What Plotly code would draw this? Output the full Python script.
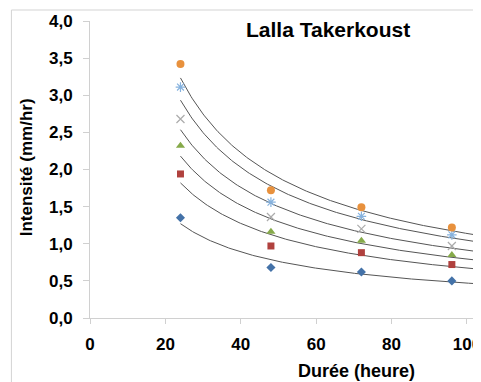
import numpy as np
import plotly.graph_objects as go

# Data
durations = [24, 48, 72, 96]
series_names = ["T1", "T2", "T3", "T4", "T5", "T6"]
s_blue = [1.35, 0.68, 0.62, 0.50]
s_red = [1.94, 0.97, 0.88, 0.72]
s_green = [2.32, 1.16, 1.04, 0.85]
s_gray = [2.68, 1.36, 1.20, 0.97]
s_lblue = [3.11, 1.56, 1.37, 1.12]
s_orange = [3.42, 1.72, 1.49, 1.22]
y_ticks = [0.0, 0.5, 1.0, 1.5, 2.0, 2.5, 3.0, 3.5, 4.0]
x_ticks = [0, 20, 40, 60, 80, 100]

all_series = [s_blue, s_red, s_green, s_gray, s_lblue, s_orange]
colors = ["#4472A8", "#B0413E", "#86AA4A", "#ABABAB", "#86B2DE", "#E8913D"]
symbols = ["diamond", "square", "triangle-up", "x-thin-open", "asterisk-open", "circle"]
sizes = [7, 7, 8, 8, 8, 8]

FONT = "Liberation Sans, Arial, sans-serif"
X_MAX = 103.2

# figure is offset by the page's 8px body margin; work in figure coords
W, H = 473, 374
L, T, B = 82, 13, 64
PW, PH = W - L, H - T - B


def px(fx):
    return (fx - L) / PW


def py(fy):
    return (H - B - fy) / PH


fig = go.Figure()

# Power-law trendlines fitted to each series
xs = np.array(durations, dtype=float)
xfit = np.linspace(24, X_MAX, 200)
for ys in all_series:
    b, ln_a = np.polyfit(np.log(xs), np.log(np.array(ys)), 1)
    yfit = np.exp(ln_a) * xfit ** b
    fig.add_trace(go.Scatter(x=xfit, y=yfit, mode="lines",
                             line=dict(color="#555555", width=1),
                             showlegend=False, hoverinfo="skip"))

for name, ys, c, sym, sz in zip(series_names, all_series, colors, symbols, sizes):
    marker = dict(color=c, symbol=sym, size=sz)
    if sym.endswith("-open"):
        marker["line"] = dict(color=c, width=1.2)
    fig.add_trace(go.Scatter(x=durations, y=ys, mode="markers", name=name,
                             marker=marker, showlegend=False))

tickfont = dict(family=FONT, size=17, color="#000000", weight="bold")

fig.update_layout(
    width=W, height=H,
    margin=dict(l=L, r=0, t=T, b=B),
    paper_bgcolor="white", plot_bgcolor="white",
    separators=",.",
    showlegend=False,
    font=dict(family=FONT, color="#000000"),
    xaxis=dict(range=[0, X_MAX], tickvals=x_ticks, showgrid=False, zeroline=False,
               showline=True, linecolor="#D0D0D0", linewidth=1,
               ticks="outside", ticklen=5, tickcolor="#D0D0D0",
               tickfont=tickfont, ticklabelstandoff=6, ticklabeloverflow="allow"),
    yaxis=dict(range=[0, 4.0], tickvals=y_ticks, tickformat=".1f", showgrid=False,
               zeroline=False, showline=True, linecolor="#D0D0D0", linewidth=1,
               ticks="outside", ticklen=6, tickcolor="#D0D0D0",
               tickfont=tickfont, ticklabelstandoff=7),
    annotations=[
        dict(text="<b>Lalla Takerkoust</b>", xref="paper", yref="paper",
             x=px(321), y=py(22), xanchor="center", yanchor="middle",
             showarrow=False, font=dict(family=FONT, size=21, color="#000000")),
        dict(text="<b>Durée (heure)</b>", xref="paper", yref="paper",
             x=px(350), y=py(363), xanchor="center", yanchor="middle",
             showarrow=False, font=dict(family=FONT, size=18, color="#000000")),
        dict(text="<b>Intensité (mm/hr)</b>", xref="paper", yref="paper",
             x=px(18), y=py(159), xanchor="center", yanchor="middle",
             textangle=-90, showarrow=False,
             font=dict(family=FONT, size=17, color="#000000")),
    ],
    shapes=[
        dict(type="rect", xref="paper", yref="paper",
             x0=px(3), x1=px(490), y0=py(390), y1=py(2),
             line=dict(color="#D3D3D3", width=1), layer="below"),
    ],
)

fig.write_html("out.html")
